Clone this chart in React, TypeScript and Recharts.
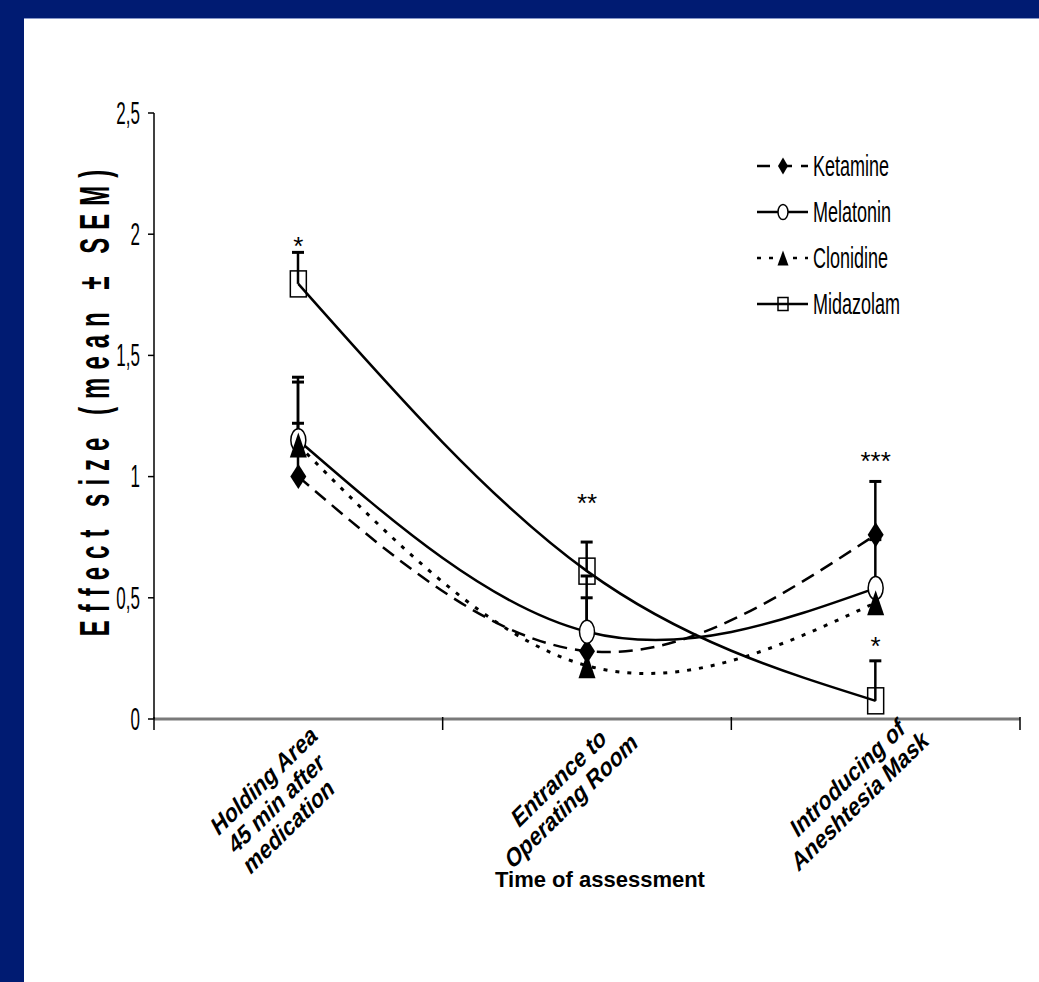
import React from 'react';
import { ComposedChart, Line, Bar, Scatter, XAxis, YAxis, Legend } from 'recharts';

const categoryLines = [
  ['Holding Area', '45 min after', 'medication'],
  ['Entrance to', 'Operating Room'],
  ['Introducing of', 'Aneshtesia Mask'],
];
const xPositions = [0.5, 1.5, 2.5];

const ketamine = [1.0, 0.28, 0.76];
const ketamineErr = [0.22, 0.31, 0.22];
const melatonin = [1.15, 0.36, 0.54];
const melatoninErr = [0.26, 0.14, 0.2];
const clonidine = [1.13, 0.22, 0.48];
const clonidineErr = [0.26, 0.12, 0.06];
const midazolam = [1.795, 0.61, 0.075];
const midazolamErr = [0.13, 0.12, 0.165];

const yTicks = [0, 0.5, 1, 1.5, 2, 2.5];
const xTicks = [0, 0.5, 1, 1.5, 2, 2.5, 3];

const sigX = [0.5, 1.5, 2.5, 2.5];
const sigY = [1.97, 0.91, 1.085, 0.32];
const sigText = ['*', '**', '***', '*'];

const FONT = '"Liberation Sans", Arial, sans-serif';

// error bars are drawn upward only, as floating [mean, mean + SEM] ranges
const chartData = xPositions.map((x, i) => ({
  x,
  ketamine: ketamine[i],
  ketErr: [ketamine[i], ketamine[i] + ketamineErr[i]],
  melatonin: melatonin[i],
  melErr: [melatonin[i], melatonin[i] + melatoninErr[i]],
  clonidine: clonidine[i],
  cloErr: [clonidine[i], clonidine[i] + clonidineErr[i]],
  midazolam: midazolam[i],
  midErr: [midazolam[i], midazolam[i] + midazolamErr[i]],
}));

const sigData = sigX.map((x, i) => ({ x, y: sigY[i], text: sigText[i] }));

type Shape = 'diamond' | 'circle' | 'triangle' | 'square';

const marker = (shape: Shape, cx: number, cy: number, w: number, h: number) => {
  if (shape === 'diamond')
    return <path d={`M${cx},${cy - h / 2}L${cx + w / 2},${cy}L${cx},${cy + h / 2}L${cx - w / 2},${cy}Z`} fill="#000" />;
  if (shape === 'circle')
    return <ellipse cx={cx} cy={cy} rx={w / 2} ry={h / 2} fill="#fff" stroke="#000" strokeWidth={1.5} />;
  if (shape === 'triangle')
    return <path d={`M${cx},${cy - h / 2}L${cx + w / 2},${cy + h / 2}L${cx - w / 2},${cy + h / 2}Z`} fill="#000" />;
  return <rect x={cx - w / 2} y={cy - h / 2} width={w} height={h} fill="none" stroke="#000" strokeWidth={1.5} />;
};

const dotFor = (shape: Shape, w: number, h: number) => (props: any) => {
  const { cx, cy, index } = props;
  return <g key={`${shape}-${index}`}>{marker(shape, cx, cy, w, h)}</g>;
};

const series = [
  { key: 'ketamine', err: 'ketErr', name: 'Ketamine', shape: 'diamond' as Shape, dash: '14 8', w: 16, h: 25 },
  { key: 'melatonin', err: 'melErr', name: 'Melatonin', shape: 'circle' as Shape, dash: undefined, w: 15, h: 23 },
  { key: 'clonidine', err: 'cloErr', name: 'Clonidine', shape: 'triangle' as Shape, dash: '4 8', w: 17, h: 25 },
  { key: 'midazolam', err: 'midErr', name: 'Midazolam', shape: 'square' as Shape, dash: undefined, w: 16, h: 26 },
];

const legendMarks: Record<string, [number, number]> = {
  diamond: [10, 17],
  circle: [10, 15],
  triangle: [11, 15],
  square: [10, 13],
};

const ErrShape = (props: any) => {
  const { x, y, width, height } = props;
  if (x == null || y == null) return null;
  const cx = x + width / 2;
  return (
    <g>
      <line x1={cx} y1={y + height} x2={cx} y2={y} stroke="#000" strokeWidth={2.5} />
      <line x1={cx - 6} y1={y} x2={cx + 6} y2={y} stroke="#000" strokeWidth={3} />
    </g>
  );
};

const LegendBox = () => (
  <svg width={230} height={200} style={{ overflow: 'visible', display: 'block' }}>
    {series.map((s, i) => {
      const cy = 16 + i * 46;
      const [w, h] = legendMarks[s.shape];
      return (
        <g key={s.key}>
          <line
            x1={0}
            y1={cy}
            x2={51}
            y2={cy}
            stroke="#000"
            strokeWidth={2.5}
            strokeDasharray={s.key === 'ketamine' ? '13 9' : s.key === 'clonidine' ? '4 8' : undefined}
          />
          {marker(s.shape, 26, cy, w, h)}
          <text transform={`translate(56, ${cy}) scale(1, 1.6)`} y={6} fontFamily={FONT} fontSize={18} fill="#000">
            {s.name}
          </text>
        </g>
      );
    })}
  </svg>
);

const XTick = (props: any) => {
  const { x, y, payload } = props;
  const v = payload.value as number;
  if (Number.isInteger(v)) {
    return <line x1={x} y1={y - 2} x2={x} y2={y + 11} stroke="#000" strokeWidth={1.5} />;
  }
  const lines = categoryLines[Math.floor(v)];
  const lh = 21;
  return (
    <g transform={`translate(${x - 22}, ${y + 42 + 14 * lines.length}) scale(1, 1.35) rotate(-36)`}>
      {lines.map((t, i) => (
        <text
          key={t}
          x={0}
          y={(i - (lines.length - 1) / 2) * lh + 7}
          textAnchor="middle"
          fontFamily={FONT}
          fontWeight="bold"
          fontSize={20}
          fill="#000"
        >
          {t}
        </text>
      ))}
    </g>
  );
};

const YTick = (props: any) => {
  const { x, y, payload } = props;
  return (
    <text transform={`translate(${x - 2}, ${y}) scale(1, 1.8)`} y={6} textAnchor="end" fontFamily={FONT} fontSize={17} fill="#000">
      {String(payload.value).replace('.', ',')}
    </text>
  );
};

const YLabel = (props: any) => {
  const vb = props.viewBox;
  return (
    <text
      transform={`translate(${vb.x + 71}, ${vb.y + vb.height / 2 - 17}) rotate(-90) scale(1, 1.75)`}
      y={8}
      textAnchor="middle"
      fontFamily={FONT}
      fontWeight="bold"
      fontSize={24}
      letterSpacing={8}
      fill="#000"
    >
      Effect size (mean ± SEM)
    </text>
  );
};

const XLabel = (props: any) => {
  const vb = props.viewBox;
  return (
    <text x={vb.x + vb.width / 2 + 13} y={vb.y + 168} textAnchor="middle" fontFamily={FONT} fontWeight="bold" fontSize={22} fill="#000">
      Time of assessment
    </text>
  );
};

const Asterisk = (props: any) => {
  const { cx, cy, payload } = props;
  return (
    <text x={cx} y={cy + 14} textAnchor="middle" fontFamily={FONT} fontSize={26} fill="#000">
      {payload.text}
    </text>
  );
};

export default function App() {
  return (
    <div style={{ position: 'fixed', left: 0, top: 0, width: 1039, height: 982, background: '#001b72' }}>
      <div
        style={{
          position: 'absolute',
          left: 24,
          top: 18,
          width: 1015,
          height: 964,
          background: '#fff',
          borderTop: '1px solid #8797c8',
        }}
      >
        <ComposedChart width={1015} height={964} data={chartData} margin={{ top: 94, right: 19, bottom: 64, left: 0 }}>
          <XAxis
            dataKey="x"
            type="number"
            domain={[0, 3]}
            ticks={xTicks}
            interval={0}
            tickLine={false}
            tickSize={0}
            tickMargin={0}
            axisLine={{ stroke: '#7a7a7a', strokeWidth: 3 }}
            tick={<XTick />}
            height={200}
            label={{ content: <XLabel /> }}
          />
          {series.map((s) => (
            <XAxis key={`ax-${s.key}`} xAxisId={`err-${s.key}`} dataKey="x" type="number" domain={[0, 3]} hide />
          ))}
          <YAxis
            type="number"
            domain={[0, 2.5]}
            ticks={yTicks}
            interval={0}
            width={130}
            tickSize={6}
            tickMargin={6}
            tickLine={{ stroke: '#000', strokeWidth: 1.5 }}
            axisLine={{ stroke: '#000', strokeWidth: 1.5 }}
            tick={<YTick />}
            label={{ content: <YLabel /> }}
          />
          <Legend
            layout="vertical"
            align="center"
            verticalAlign="middle"
            content={<LegendBox />}
            wrapperStyle={{ left: 733, top: 131, width: 230, height: 200 }}
          />
          {series.map((s) => (
            <Bar
              key={`bar-${s.key}`}
              xAxisId={`err-${s.key}`}
              dataKey={s.err}
              barSize={12}
              shape={<ErrShape />}
              legendType="none"
              isAnimationActive={false}
            />
          ))}
          {series.map((s) => (
            <Line
              key={s.key}
              dataKey={s.key}
              name={s.name}
              type="natural"
              stroke="#000"
              strokeWidth={s.key === 'clonidine' ? 3 : 2.5}
              strokeDasharray={s.dash}
              dot={dotFor(s.shape, s.w, s.h)}
              activeDot={false}
              isAnimationActive={false}
            />
          ))}
          <Scatter data={sigData} dataKey="y" shape={<Asterisk />} isAnimationActive={false} legendType="none" />
        </ComposedChart>
      </div>
    </div>
  );
}
